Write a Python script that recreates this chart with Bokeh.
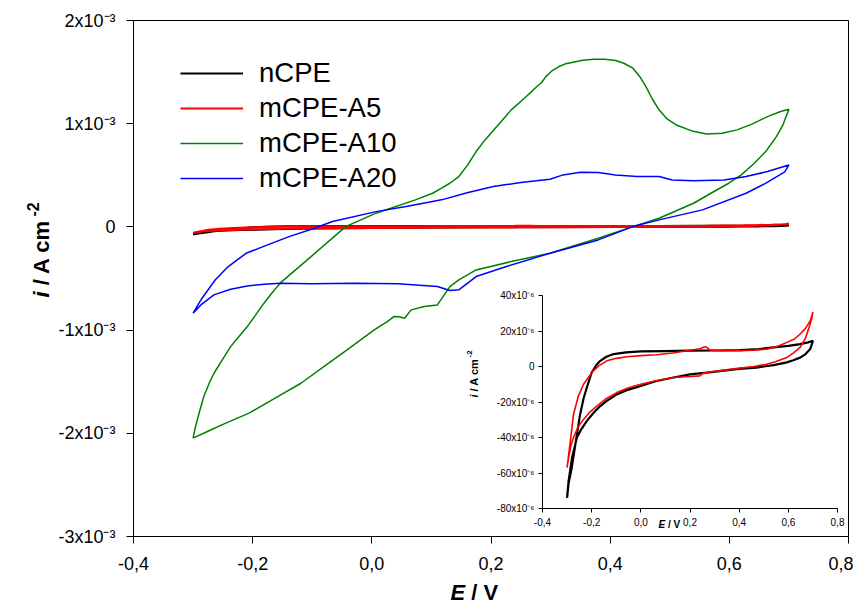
import numpy as np
from bokeh.plotting import figure
from bokeh.models import (Range1d, FixedTicker, CustomJSTickFormatter, Label,
                          Legend, LegendItem)
from bokeh.embed import file_html
from bokeh.resources import INLINE

# ---------------- data ----------------
# nCPE (current in microA)
ncpe_E = [-0.300, -0.294, -0.281, -0.262, -0.247, -0.233, -0.220, -0.200, -0.180, -0.165,
          -0.140, -0.111, -0.060, 0.000, 0.100, 0.200, 0.300, 0.404, 0.480, 0.540, 0.600,
          0.648, 0.680, 0.700,
          0.689, 0.670, 0.648, 0.620, 0.594, 0.540, 0.470, 0.400, 0.268, 0.200, 0.133,
          0.060, 0.000, -0.050, -0.098, -0.140, -0.165, -0.195, -0.220, -0.245, -0.260,
          -0.280, -0.294, -0.300]
ncpe_I = [-74, -66, -57, -40, -27, -18, -12, -3.4, 1.0, 3.2,
          5.5, 7.0, 8.0, 8.5, 8.7, 8.9, 9.0, 9.2, 9.8, 10.8, 11.6,
          12.6, 13.6, 14.5,
          9.8, 7.0, 5.0, 3.5, 2.3, 0.8, -0.6, -1.3, -3.4, -4.4, -6.2,
          -8.3, -11.0, -13.0, -15.7, -19.5, -22.3, -26.5, -30.8, -36.0, -40.0,
          -51.5, -64.7, -74]

# mCPE-A5 (current in microA)
a5_E = [-0.300, -0.292, -0.285, -0.274, -0.255, -0.233, -0.210, -0.193, -0.170, -0.138,
        -0.100, -0.057, 0.000, 0.065, 0.130, 0.200, 0.240, 0.255, 0.265, 0.282, 0.330,
        0.404, 0.460, 0.512, 0.560, 0.594, 0.625, 0.648, 0.670, 0.690, 0.700,
        0.695, 0.689, 0.670, 0.648, 0.620, 0.594, 0.550, 0.512, 0.460, 0.404, 0.330,
        0.268, 0.250, 0.240, 0.200, 0.133, 0.060, 0.000, -0.050, -0.098, -0.140, -0.179,
        -0.210, -0.233, -0.255, -0.274, -0.285, -0.294, -0.300]
a5_I = [-57, -48, -40, -27, -17, -10, -5.5, -2.5, 0.5, 3.2,
        4.6, 5.5, 6.1, 6.6, 7.6, 9.2, 10.0, 10.8, 11.1, 9.2, 8.9,
        8.9, 9.2, 9.8, 11.5, 13.6, 15.5, 18.3, 21.5, 26.0, 30.6,
        27.0, 24.0, 16.0, 10.8, 7.5, 5.1, 2.8, 1.3, 0.0, -0.9, -2.2,
        -3.4, -4.0, -5.3, -5.6, -6.2, -8.0, -10.0, -12.0, -14.7, -18.0, -22.3,
        -26.0, -29.8, -34.0, -40.0, -45.0, -51.5, -57]

# mCPE-A10 (current in mA)
a10_E = [-0.300, -0.296, -0.290, -0.282, -0.273, -0.265, -0.251, -0.237, -0.223, -0.209,
         -0.195, -0.181, -0.167, -0.153, -0.102, -0.044, 0.007,
         0.073, 0.102, 0.117, 0.131, 0.146, 0.161, 0.175, 0.190, 0.212, 0.234, 0.256,
         0.270, 0.277, 0.285, 0.292, 0.303, 0.314, 0.325, 0.336, 0.354, 0.372, 0.391,
         0.409, 0.423, 0.438, 0.449, 0.460, 0.471, 0.482, 0.496, 0.511, 0.537, 0.562,
         0.588, 0.613, 0.639, 0.664, 0.686, 0.700,
         0.690, 0.679, 0.661, 0.642, 0.620, 0.599, 0.569, 0.540, 0.482, 0.438, 0.380,
         0.299, 0.234, 0.175, 0.146, 0.131, 0.110, 0.088, 0.066, 0.055, 0.046, 0.037,
         0.026, 0.004, -0.041, -0.069, -0.119, -0.158, -0.206, -0.248, -0.276, -0.300]
a10_I = [-2.047, -1.935, -1.806, -1.644, -1.515, -1.418, -1.289, -1.160, -1.063, -0.966,
         -0.853, -0.739, -0.636, -0.540, -0.288, 0.003, 0.133,
         0.262, 0.326, 0.375, 0.423, 0.488, 0.601, 0.730, 0.843, 0.988, 1.134, 1.247,
         1.321, 1.360, 1.399, 1.456, 1.515, 1.554, 1.580, 1.592, 1.615, 1.625, 1.625,
         1.612, 1.586, 1.538, 1.463, 1.360, 1.237, 1.134, 1.044, 0.988, 0.930, 0.901,
         0.908, 0.940, 0.998, 1.069, 1.118, 1.140,
         0.989, 0.875, 0.730, 0.617, 0.504, 0.423, 0.326, 0.229, 0.084, 0.003, -0.110,
         -0.255, -0.336, -0.417, -0.514, -0.578, -0.756, -0.772, -0.804, -0.885, -0.870, -0.869,
         -0.917, -0.998, -1.190, -1.305, -1.515, -1.644, -1.805, -1.909, -1.983, -2.047]

# mCPE-A20 (current in mA)
a20_E = [-0.300, -0.285, -0.263, -0.241, -0.211, -0.175, -0.139, -0.100, -0.066, 0.007,
         0.060, 0.117, 0.160, 0.204, 0.250, 0.299, 0.321, 0.350, 0.380, 0.409, 0.445,
         0.482, 0.504, 0.540, 0.591, 0.628, 0.664, 0.700,
         0.693, 0.660, 0.628, 0.555, 0.482, 0.438, 0.380, 0.299, 0.226, 0.175, 0.146,
         0.131, 0.110, 0.044, -0.029, -0.102, -0.153, -0.181, -0.209, -0.237, -0.265,
         -0.287, -0.300]
a20_I = [-0.836, -0.691, -0.514, -0.384, -0.256, -0.174, -0.094, -0.020, 0.052, 0.148,
         0.200, 0.262, 0.330, 0.391, 0.430, 0.462, 0.504, 0.530, 0.527, 0.504, 0.488,
         0.488, 0.455, 0.446, 0.455, 0.488, 0.536, 0.600,
         0.534, 0.420, 0.326, 0.165, 0.068, 0.003, -0.126, -0.255, -0.384, -0.481, -0.610,
         -0.617, -0.578, -0.552, -0.546, -0.552, -0.546, -0.556, -0.572, -0.604, -0.659,
         -0.756, -0.836]

x_ticks = [-0.4, -0.2, 0.0, 0.2, 0.4, 0.6, 0.8]
main_y_ticks = [-3, -2, -1, 0, 1, 2]             # x10^-3 A cm^-2
inset_y_ticks = [-80, -60, -40, -20, 0, 20, 40]  # x10^-6 A cm^-2
series_names = ["nCPE", "mCPE-A5", "mCPE-A10", "mCPE-A20"]
series_colors = ["#000000", "#FF0000", "#008000", "#0000FF"]

FONT = "Liberation Sans"
X_FMT = "return tick.toFixed(1).replace('.', ',');"


def style_axes(fig, tick_out, size):
    for ax in (fig.xaxis[0], fig.yaxis[0]):
        ax.major_tick_out = tick_out
        ax.major_tick_in = 0
        ax.minor_tick_out = 0
        ax.minor_tick_in = 0
        ax.axis_line_color = "black"
        ax.major_tick_line_color = "black"
        ax.major_label_text_font = FONT
        ax.major_label_text_font_size = size
        ax.major_label_text_color = "black"


# ---------------- main figure ----------------
p = figure(width=853, height=600, output_backend="svg", toolbar_location=None,
           x_range=Range1d(-0.4, 0.8), y_range=Range1d(-3, 2),
           min_border_left=133, min_border_right=5, min_border_top=20,
           min_border_bottom=64, background_fill_color="white",
           border_fill_color="white", outline_line_color="black",
           outline_line_width=1,
           styles={"position": "absolute", "left": "0px", "top": "0px"})
p.xgrid.visible = False
p.ygrid.visible = False
p.xaxis.ticker = FixedTicker(ticks=x_ticks)
p.xaxis.formatter = CustomJSTickFormatter(code=X_FMT)
p.yaxis.ticker = FixedTicker(ticks=main_y_ticks)
p.yaxis.formatter = CustomJSTickFormatter(
    code="if (Math.abs(tick) < 1e-9) { return '0'; } return Math.round(tick) + 'x10\u207b\u00b3';")
style_axes(p, 7, "18px")
p.xaxis.major_label_standoff = 13
p.yaxis.major_label_standoff = 11

to_mA = 1e-3
r_n = p.line(ncpe_E, np.array(ncpe_I) * to_mA, line_color=series_colors[0], line_width=2)
r_5 = p.line(a5_E, np.array(a5_I) * to_mA, line_color=series_colors[1], line_width=2)
r_10 = p.line(a10_E, a10_I, line_color=series_colors[2], line_width=1.5)
r_20 = p.line(a20_E, a20_I, line_color=series_colors[3], line_width=1.5)

legend = Legend(items=[LegendItem(label=n, renderers=[r]) for n, r in
                       zip(series_names, [r_n, r_5, r_10, r_20])],
                location=(47, 342), glyph_width=63, glyph_height=20,
                label_standoff=16, label_text_font=FONT,
                label_text_font_size="27.5px", label_text_color="black",
                label_height=31, spacing=3,
                padding=0, margin=0, border_line_color=None,
                background_fill_alpha=0)
p.add_layout(legend)

# ---------------- inset ----------------
inset = figure(width=400, height=250, output_backend="svg", toolbar_location=None,
               x_range=Range1d(-0.4, 0.8), y_range=Range1d(-80, 40),
               min_border_left=97, min_border_right=8, min_border_top=12,
               min_border_bottom=25, background_fill_alpha=0, border_fill_alpha=0,
               outline_line_color=None,
               styles={"position": "absolute", "left": "445px", "top": "283px"})
inset.xgrid.visible = False
inset.ygrid.visible = False
inset.xaxis.ticker = FixedTicker(ticks=x_ticks)
inset.xaxis.formatter = CustomJSTickFormatter(code=X_FMT)
inset.yaxis.ticker = FixedTicker(ticks=inset_y_ticks)
inset.yaxis.formatter = CustomJSTickFormatter(
    code="if (Math.abs(tick) < 1e-9) { return '0'; } return Math.round(tick) + 'x10\u207b\u2076';")
style_axes(inset, 4, "10px")
inset.xaxis.major_label_standoff = 5
inset.yaxis.major_label_standoff = 4

inset.line(ncpe_E, ncpe_I, line_color=series_colors[0], line_width=2.2)
inset.line(a5_E, a5_I, line_color=series_colors[1], line_width=1.6)

# ---------------- text layer (axis titles) ----------------
H = 606
txt = figure(width=861, height=H, output_backend="svg", toolbar_location=None,
             x_range=Range1d(0, 1), y_range=Range1d(0, 1),
             x_axis_type=None, y_axis_type=None,
             min_border_left=0, min_border_right=0, min_border_top=0,
             min_border_bottom=0, background_fill_alpha=0, border_fill_alpha=0,
             outline_line_color=None,
             styles={"position": "absolute", "left": "0px", "top": "0px",
                     "pointer-events": "none"})
txt.xgrid.visible = False
txt.ygrid.visible = False


def lab(x, y, text, size, style="bold", angle=0.0):
    # x, y: picture pixels from top-left
    txt.add_layout(Label(x=x, y=H - y, x_units="screen", y_units="screen", text=text,
                         angle=angle, text_font=FONT, text_font_size=size,
                         text_font_style=style, text_color="black",
                         text_align="left", text_baseline="middle"))


# main y title (reads bottom to top)
lab(41, 297, "i", "22px", "bold italic", np.pi / 2)
lab(41, 284.8, "/ A cm", "22px", "bold", np.pi / 2)
lab(32, 216, "-2", "16px", "bold", np.pi / 2)
# main x title
lab(450, 592, "E", "22px", "bold italic")
lab(470.8, 592, "/ V", "22px", "bold")
# inset y title
lab(473, 397, "i", "11px", "bold italic", np.pi / 2)
lab(473, 390.9, "/ A cm", "11px", "bold", np.pi / 2)
lab(469, 357, "-2", "8px", "bold", np.pi / 2)
# inset x title
lab(658, 524, "E", "10px", "bold italic")
lab(667.5, 524, "/ V", "10px", "bold")

open("out.html", "w").write(file_html([p, inset, txt], INLINE, title="CV"))
